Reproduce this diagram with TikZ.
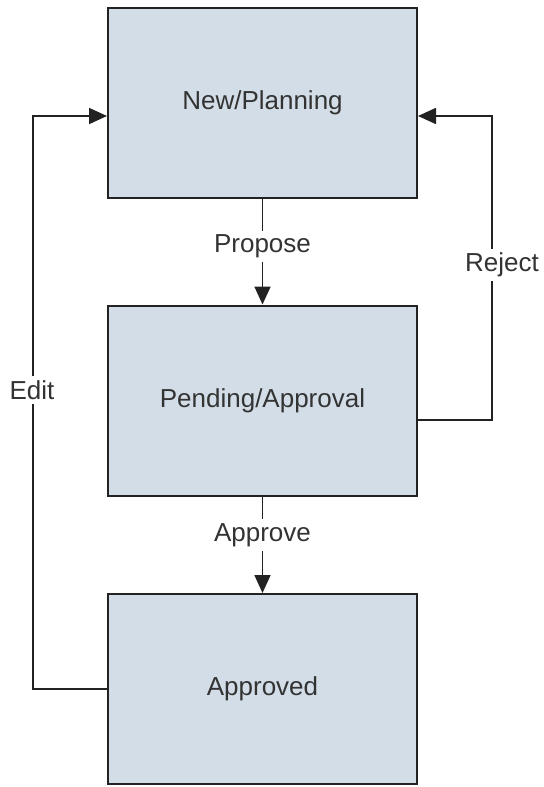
\documentclass[tikz,border=0pt]{standalone}
\usepackage{fontspec}
\setmainfont{Liberation Sans}
\usetikzlibrary{arrows.meta,positioning}

\definecolor{boxfill}{HTML}{D3DDE7}
\definecolor{ink}{HTML}{333333}
\definecolor{wire}{HTML}{222222}

\begin{document}
\begin{tikzpicture}[x=0.5pt, y=-0.5pt,
    state/.style={draw=wire, fill=boxfill, line width=1pt, text=ink,
                  minimum width=154.5pt, minimum height=95pt, font=\fontsize{13}{15}\selectfont},
    flow/.style={draw=wire, line width=0.9pt, -{Triangle[length=9pt,width=8pt]}},
    lbl/.style={fill=white, text=ink, inner sep=2pt, font=\fontsize{13}{15}\selectfont}]

\useasboundingbox (0,0) rectangle (543,787);

\node [state] (plan) at (262.5,103)   {New/Planning};
\node [state] (pend) at (262.5,400.5) {Pending/Approval};
\node [state] (appr) at (262.5,689)   {Approved};

\coordinate (rj) at (492,116);
\coordinate (ed) at (33,116);

\draw [flow] (plan.south) -- node [lbl, pos=0.45] (propose) {Propose} (pend.north);
\draw [flow] (pend.south) -- node [lbl, pos=0.4] (approve) {Approve} (appr.north);

\draw [flow] ([yshift=-9.75pt]pend.east) -| (rj) -- ([yshift=-6.5pt]plan.east);
\draw [flow] (appr.west) -| (ed) -- ([yshift=-6.5pt]plan.west);

\node [lbl] (reject) at (502,265) {Reject};
\node [lbl] (edit) at (32,390) {Edit};

\end{tikzpicture}
\end{document}
